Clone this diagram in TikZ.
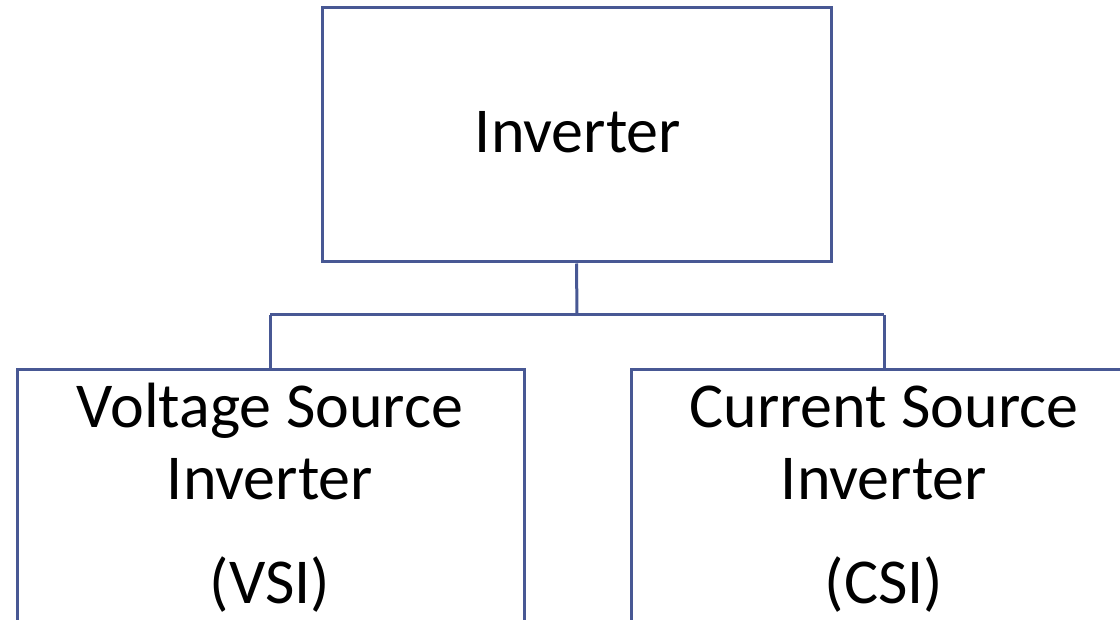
\documentclass[tikz,border=0pt]{standalone}
\usepackage{fontspec}
\setmainfont{Carlito}
\definecolor{edge}{RGB}{72,88,148}
\begin{document}
\begin{tikzpicture}[x=1pt,y=-1pt,
  box/.style={draw=edge,line width=3pt},
  wire/.style={draw=edge,line width=3pt},
  lbl/.style={font=\fontsize{64}{64}\selectfont,inner sep=0pt,anchor=base}]
\useasboundingbox (0,0) rectangle (1120,620);
\clip (0,0) rectangle (1120,620);
\node[box,minimum width=509pt,minimum height=254pt,inner sep=0pt] (top) at (576.5,135) {};
\node[box,minimum width=507pt,minimum height=300pt,inner sep=0pt,anchor=north west] (vsi) at (16,368) {};
\node[box,minimum width=507pt,minimum height=300pt,inner sep=0pt,anchor=north west] (csi) at (630,368) {};
\node[lbl] (t1) at (578,153) {Inverter};
\node[lbl] (v1) at (270,428) {Voltage Source};
\node[lbl] (v2) at (270,499) {Inverter};
\node[lbl] (v3) at (270,603) {(VSI)};
\node[lbl] (c1) at (884,428) {Current Source};
\node[lbl] (c2) at (884,499) {Inverter};
\node[lbl] (c3) at (884,603) {(CSI)};
\coordinate (j) at (577,315);
\draw[wire] (top.south) -- (j);
\draw[wire] (270,315) -- (884,315);
\draw[wire] (270,315) -- (270,368);
\draw[wire] (884,315) -- (884,368);
\end{tikzpicture}
\end{document}
